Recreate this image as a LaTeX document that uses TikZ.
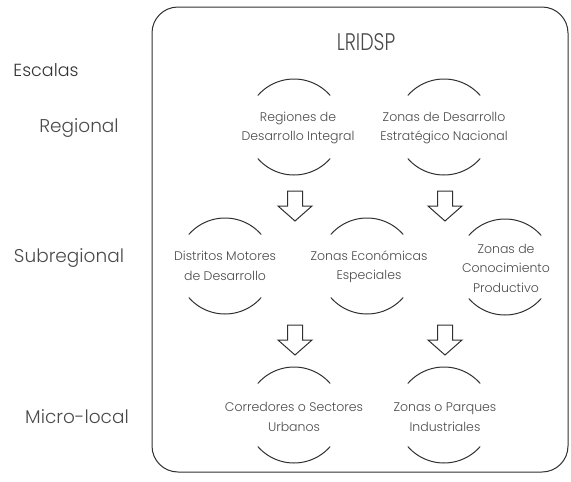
\documentclass[tikz,border=0pt]{standalone}
\usepackage{fontspec}
\IfFontExistsTF{Poppins Light}{\setmainfont{Poppins Light}}{\setmainfont{Poppins}}
\definecolor{txt}{HTML}{4A4A4A}
\definecolor{ln}{HTML}{303030}
\begin{document}
\begin{tikzpicture}[x=1pt,y=1pt,
  lbl/.style={text=txt,font=\fontsize{12.5}{19.5}\selectfont,align=center,inner sep=0pt},
  scale label/.style={text=txt,font=\fontsize{18.5}{20}\selectfont,inner sep=0pt},
  bubble/.style={circle,minimum size=96pt,inner sep=0pt,outer sep=0pt,draw=none},
  arcline/.style={draw=ln,line width=1pt},
  arrowline/.style={draw=ln,line width=1pt,line join=miter}
]
\useasboundingbox (0,0) rectangle (571,-482);
% frame
\draw[ln,line width=1pt,rounded corners=26pt] (152,-7) rectangle (568,-472);
\node[text=txt,font=\fontsize{20}{22}\selectfont,inner sep=0pt] (title) at (366,-42) {\scalebox{0.95}[1.2]{LRIDSP}};
% scale labels
\node[scale label,text=black!80,font=\fontsize{17.5}{20}\selectfont] (esc) at (46,-70) {Escalas};
\node[scale label] (reg) at (79,-128) {Regional};
\node[scale label] (sub) at (69,-258) {Subregional};
\node[scale label] (mic) at (77,-417) {Micro-local};
% bubbles
\node[bubble] (A) at (294,-127) {};
\node[bubble] (B) at (444,-127) {};
\node[bubble] (C) at (225,-266) {};
\node[bubble] (D) at (367,-266) {};
\node[bubble] (E) at (505,-267) {};
\node[bubble] (F) at (294,-415) {};
\node[bubble] (G) at (444,-415) {};
\foreach \n in {A,B,C,D,E,F,G}{
  \draw[arcline] (\n.41) arc[start angle=41,end angle=139,radius=48pt];
  \draw[arcline] (\n.221) arc[start angle=221,end angle=319,radius=48pt];
}
% texts
\node[lbl] (tA) at (298,-128) {Regiones de\\Desarrollo Integral};
\node[lbl] (tB) at (444,-128) {Zonas de Desarrollo\\Estratégico Nacional};
\node[lbl] (tC) at (225,-266) {Distritos Motores\\de Desarrollo};
\node[lbl] (tD) at (369,-267) {Zonas Económicas\\Especiales};
\node[lbl] (tE) at (506,-268) {Zonas de\\Conocimiento\\Productivo};
\node[lbl] (tF) at (294,-417) {Corredores o Sectores\\Urbanos};
\node[lbl] (tG) at (445,-417) {Zonas o Parques\\Industriales};
% block arrows
\coordinate (a1) at (295,-206);
\coordinate (a2) at (445,-206);
\coordinate (a3) at (295,-340);
\coordinate (a4) at (445,-340);
\foreach \a in {a1,a2,a3,a4}{
  \draw[arrowline] (\a) ++(-7.5,15) -- ++(0,-15) -- ++(-9.5,0) -- ++(17,-15) -- ++(17,15) -- ++(-9.5,0) -- ++(0,15) -- cycle;
}
\end{tikzpicture}
\end{document}
